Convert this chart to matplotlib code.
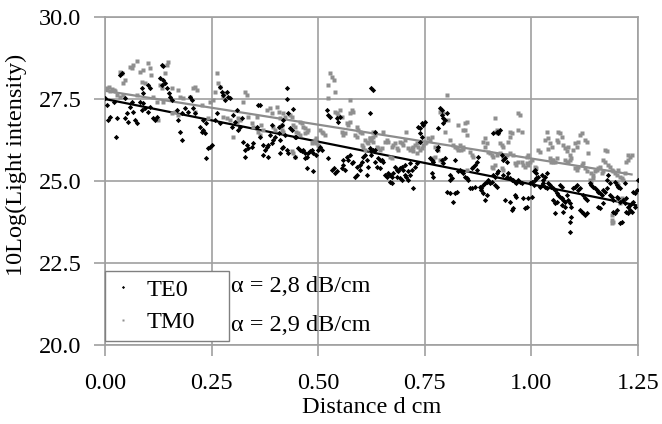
import matplotlib
matplotlib.use("Agg")
import matplotlib.pyplot as plt
from matplotlib.ticker import FormatStrFormatter

plt.rcParams['font.family'] = ['Liberation Serif', 'DejaVu Serif']

# === Data ===

# TE0 mode (black points)
te_d = [0.000, 0.004, 0.012, 0.008, 0.027, 0.026, 0.039, 0.035, 0.020, 0.047, 0.063, 0.059, 0.066, 0.051,
        0.047, 0.055, 0.070, 0.074, 0.082, 0.090, 0.086, 0.094, 0.102, 0.106, 0.086, 0.090, 0.102, 0.106,
        0.133, 0.137, 0.129, 0.137, 0.133, 0.141, 0.145, 0.149, 0.152, 0.156, 0.113, 0.117, 0.121, 0.168,
        0.172, 0.180, 0.176, 0.180, 0.188, 0.195,
        0.199, 0.203, 0.207, 0.211, 0.223, 0.227, 0.231, 0.235, 0.242, 0.246, 0.250, 0.238, 0.270, 0.274,
        0.277, 0.285, 0.289, 0.281, 0.293, 0.231, 0.238, 0.258, 0.301, 0.309, 0.262, 0.270, 0.297, 0.305,
        0.321, 0.360, 0.364, 0.324, 0.332, 0.328, 0.336, 0.344, 0.348, 0.328, 0.364, 0.371, 0.375, 0.379,
        0.383, 0.391, 0.395, 0.387, 0.371, 0.383, 0.399, 0.407, 0.410, 0.414, 0.410, 0.418, 0.356, 0.391,
        0.407, 0.317, 0.313,
        0.428, 0.426, 0.442, 0.430, 0.418, 0.414, 0.434, 0.438, 0.422, 0.446, 0.449, 0.453, 0.457, 0.461,
        0.465, 0.469, 0.473, 0.477, 0.481, 0.485, 0.489, 0.496, 0.500, 0.504, 0.508, 0.446, 0.469, 0.473,
        0.489, 0.426, 0.430, 0.520, 0.524, 0.528, 0.543, 0.547, 0.551, 0.524, 0.532, 0.536, 0.539, 0.543,
        0.555, 0.559, 0.563, 0.567, 0.571, 0.575, 0.579, 0.582, 0.586, 0.590, 0.590, 0.598, 0.602, 0.606,
        0.610, 0.614, 0.618, 0.614, 0.598, 0.625, 0.629, 0.621, 0.625, 0.633, 0.559,
        0.633, 0.621, 0.625, 0.629, 0.641, 0.645, 0.649, 0.653, 0.633, 0.637, 0.645, 0.657, 0.661, 0.664,
        0.668, 0.672, 0.676, 0.668, 0.672, 0.680, 0.684, 0.688, 0.692, 0.696, 0.700, 0.704, 0.684, 0.692,
        0.696, 0.704, 0.707, 0.711, 0.711, 0.715, 0.719, 0.723, 0.727, 0.731, 0.735, 0.739, 0.743, 0.747,
        0.750, 0.739, 0.743, 0.739, 0.715, 0.762, 0.766, 0.770, 0.766, 0.770, 0.778, 0.782, 0.782, 0.786,
        0.790, 0.790, 0.793, 0.797, 0.793, 0.801, 0.790, 0.793, 0.797, 0.809, 0.813, 0.809, 0.801, 0.809,
        0.821, 0.825, 0.817, 0.829, 0.821,
        0.833, 0.836, 0.840, 0.844, 0.848, 0.852, 0.860, 0.864, 0.868, 0.872, 0.875, 0.872, 0.860, 0.868,
        0.856, 0.879, 0.883, 0.887, 0.891, 0.895, 0.899, 0.903, 0.907, 0.883, 0.887, 0.895, 0.891, 0.911,
        0.915, 0.919, 0.922, 0.915, 0.919, 0.911, 0.919, 0.922, 0.926, 0.930, 0.934, 0.938, 0.942, 0.934,
        0.942, 0.946, 0.950, 0.954, 0.958, 0.962, 0.965, 0.969, 0.973, 0.977, 0.938, 0.950, 0.954, 0.958,
        0.962, 0.965, 0.981, 0.985, 0.989, 0.993, 1.001, 0.997, 1.001, 1.005, 1.008, 1.012, 1.005, 1.008,
        1.012, 1.016, 1.020, 1.024, 1.028, 1.032, 1.036, 1.040, 1.024, 1.032, 1.036, 1.028,
        1.044, 1.047, 1.051, 1.055, 1.059, 1.063, 1.067, 1.071, 1.075, 1.079, 1.067, 1.071, 1.051, 1.055,
        1.059, 1.083, 1.087, 1.090, 1.094, 1.055, 1.075, 1.079, 1.071, 1.098, 1.102, 1.106, 1.110, 1.114,
        1.094, 1.090, 1.090, 1.114, 1.118, 1.122, 1.126, 1.130, 1.122, 1.126, 1.130, 1.137, 1.141, 1.145,
        1.149, 1.153, 1.157, 1.161, 1.165, 1.169, 1.173, 1.177, 1.180, 1.177, 1.184, 1.184, 1.188, 1.192,
        1.196, 1.200, 1.204, 1.208, 1.200, 1.204, 1.208, 1.157, 1.161, 1.169, 1.192, 1.196, 1.200, 1.208,
        1.212, 1.216, 1.219, 1.223, 1.227, 1.231, 1.235, 1.239, 1.243, 1.223, 1.227, 1.231, 1.235, 1.239,
        1.243, 1.247, 1.249, 1.219]
te_db = [27.52, 27.32, 26.96, 26.86, 26.91, 26.35, 28.28, 28.23, 27.42, 27.52, 27.42, 27.27, 27.11, 27.06,
         26.91, 26.81, 26.86, 26.76, 27.42, 27.37, 27.16, 27.22, 27.11, 27.27, 27.83, 27.67, 27.93, 27.83,
         28.54, 28.50, 28.13, 28.08, 27.93, 27.98, 27.83, 27.67, 27.57, 27.47, 26.91, 26.86, 26.96, 27.16,
         26.86, 27.06, 26.50, 26.25, 27.22, 27.11,
         27.57, 27.47, 27.22, 27.06, 26.66, 26.50, 26.56, 26.45, 26.00, 26.05, 26.10, 25.69, 27.88, 27.72,
         27.62, 27.72, 27.57, 27.47, 27.52, 26.86, 26.76, 26.86, 27.01, 27.17, 27.06, 26.76, 26.66, 26.81,
         26.91, 27.32, 27.32, 26.20, 26.10, 25.95, 26.00, 26.05, 26.15, 25.74, 26.35, 26.10, 25.95, 26.05,
         26.10, 26.15, 26.25, 26.40, 25.79, 25.74, 26.35, 26.45, 26.25, 26.00, 25.84, 26.05, 26.66, 26.71,
         26.66, 26.66, 26.56,
         27.83, 27.49, 27.19, 27.06, 26.86, 26.71, 26.61, 26.56, 26.40, 26.35, 26.33, 26.00, 25.95, 25.90,
         25.95, 25.84, 25.74, 25.84, 25.90, 25.95, 25.84, 25.79, 25.95, 26.05, 25.95, 25.74, 25.69, 25.39,
         25.29, 25.95, 25.84, 27.17, 27.01, 26.96, 26.91, 26.81, 26.96, 25.69, 25.34, 25.39, 25.23, 25.29,
         25.39, 25.49, 25.34, 25.74, 25.64, 25.79, 25.54, 25.59, 25.13, 25.18, 25.44, 25.49, 25.59, 25.74,
         25.79, 25.64, 25.44, 25.18, 25.34, 27.83, 27.77, 27.06, 25.79, 25.95, 25.64,
         26.50, 26.00, 25.90, 25.95, 25.69, 25.64, 25.64, 25.59, 25.59, 25.44, 25.39, 25.18, 25.13, 25.23,
         25.18, 25.13, 25.23, 24.98, 24.93, 25.44, 25.34, 25.29, 25.39, 25.44, 25.34, 25.49, 25.13, 25.08,
         25.03, 25.18, 25.13, 25.03, 25.29, 25.18, 25.34, 24.78, 25.44, 25.54, 26.66, 26.61, 26.76, 26.71,
         26.81, 26.45, 26.35, 26.20, 25.54, 25.69, 25.64, 25.59, 25.23, 25.13, 25.95, 26.05, 26.61, 27.22,
         27.17, 27.01, 26.91, 26.86, 26.76, 27.06, 25.64, 25.54, 25.69, 25.18, 25.08, 25.03, 24.67, 24.62,
         24.62, 24.67, 24.37, 25.29, 25.64,
         25.34, 25.29, 25.24, 25.13, 25.08, 25.03, 25.39, 25.44, 25.49, 25.59, 25.74, 25.34, 24.78, 24.83,
         24.78, 24.83, 24.78, 24.88, 24.93, 24.98, 25.03, 24.93, 24.98, 24.73, 24.63, 24.57, 24.42, 25.18,
         25.13, 25.24, 25.29, 24.88, 24.83, 26.45, 26.50, 26.45, 26.55, 25.79, 25.64, 25.69, 25.59, 25.18,
         25.13, 25.24, 25.08, 25.03, 25.03, 24.98, 24.93, 25.03, 24.98, 24.93, 24.42, 24.37, 24.12, 24.17,
         24.57, 24.52, 24.47, 24.17, 24.22, 24.47, 24.52, 24.93, 24.98, 24.88, 25.03, 25.08, 25.29, 25.34,
         25.24, 25.13, 24.83, 24.88, 24.93, 24.83, 24.78, 24.93, 25.18, 25.13, 25.24, 25.03,
         24.88, 24.83, 24.78, 24.73, 24.63, 24.57, 24.52, 24.47, 24.42, 24.37, 24.88, 24.83, 24.42, 24.32,
         24.37, 24.57, 24.42, 24.32, 24.22, 24.02, 24.07, 24.22, 24.27, 24.78, 24.83, 24.88, 24.73, 24.78,
         23.91, 23.76, 23.46, 24.12, 24.07, 24.02, 23.96, 24.02, 24.57, 24.47, 24.42, 24.93, 24.88, 24.83,
         24.78, 24.73, 24.68, 24.63, 24.57, 24.73, 24.68, 24.78, 25.18, 25.03, 24.93, 24.57, 24.52, 24.42,
         24.98, 24.88, 24.83, 24.78, 24.52, 24.47, 24.37, 24.22, 24.17, 24.32, 24.07, 24.02, 24.12, 23.71,
         23.76, 24.42, 24.32, 24.47, 24.22, 24.27, 24.32, 24.37, 24.22, 24.07, 24.02, 24.12, 24.07, 24.68,
         24.63, 24.73, 25.03, 24.93]

# TM0 mode (grey points)
tm_d = [0.004, 0.010, 0.016, 0.020, 0.023, 0.012, 0.035, 0.039, 0.047, 0.043, 0.059, 0.066, 0.074, 0.063,
        0.082, 0.090, 0.102, 0.106, 0.109, 0.086, 0.094, 0.148, 0.145, 0.141, 0.129, 0.133, 0.156, 0.172,
        0.176, 0.184, 0.199, 0.113, 0.121, 0.137, 0.164, 0.172, 0.156, 0.125, 0.027, 0.035, 0.043, 0.074,
        0.207, 0.211, 0.215, 0.262, 0.266, 0.270, 0.258, 0.254, 0.246, 0.277, 0.281, 0.328, 0.332, 0.324,
        0.277, 0.285, 0.293, 0.309, 0.317, 0.313, 0.336, 0.344, 0.348, 0.301, 0.360, 0.364, 0.379, 0.387,
        0.391, 0.403, 0.407, 0.410, 0.395, 0.399, 0.422, 0.211, 0.227, 0.242, 0.356, 0.367, 0.371, 0.414,
        0.528, 0.532, 0.536, 0.524, 0.539, 0.524, 0.575, 0.418, 0.434, 0.438, 0.457, 0.461, 0.442, 0.446,
        0.465, 0.469, 0.473, 0.477, 0.469, 0.410, 0.414, 0.418, 0.449, 0.453, 0.457, 0.438, 0.442, 0.446,
        0.485, 0.489, 0.493, 0.496, 0.504, 0.508, 0.512, 0.516, 0.496, 0.500, 0.539, 0.543, 0.547, 0.551,
        0.555, 0.567, 0.571, 0.575, 0.555, 0.559, 0.563, 0.579, 0.582, 0.575, 0.590, 0.594, 0.598, 0.602,
        0.586, 0.590, 0.610, 0.614, 0.618, 0.621, 0.625, 0.629, 0.602, 0.606, 0.610, 0.621, 0.625,
        0.801, 0.786, 0.793, 0.805, 0.797, 0.809, 0.829, 0.840, 0.629, 0.633, 0.653, 0.621, 0.625, 0.629,
        0.637, 0.641, 0.645, 0.649, 0.657, 0.661, 0.664, 0.672, 0.676, 0.680, 0.684, 0.688, 0.692, 0.696,
        0.700, 0.707, 0.704, 0.711, 0.715, 0.719, 0.723, 0.727, 0.731, 0.735, 0.739, 0.743, 0.747, 0.750,
        0.754, 0.758, 0.762, 0.766, 0.723, 0.731, 0.774, 0.778, 0.782, 0.766, 0.770, 0.774, 0.786, 0.790,
        0.817, 0.821, 0.825, 0.829, 0.833, 0.840, 0.668, 0.672,
        0.844, 0.848, 0.844, 0.848, 0.840, 0.836, 0.856, 0.860, 0.864, 0.887, 0.891, 0.895, 0.891, 0.915,
        0.915, 0.919, 0.922, 0.926, 0.930, 0.934, 0.946, 0.950, 0.950, 0.954, 0.969, 0.973, 0.969, 0.977,
        0.899, 0.903, 0.907, 0.911, 0.919, 0.926, 0.934, 0.942, 0.950, 0.958, 0.907, 0.911, 0.915, 0.934,
        0.930, 0.962, 0.965, 0.969, 0.977, 0.981, 0.985, 0.989, 0.993, 0.997, 1.001, 0.989, 0.993, 1.016,
        1.020, 1.036, 1.040, 1.044, 1.048, 1.040, 1.032, 1.044, 1.048, 1.051, 0.848, 1.008, 1.012,
        1.063, 1.067, 1.071, 1.059, 1.063, 1.075, 1.079, 1.083, 1.087, 1.090, 1.098, 1.102, 1.106, 1.110,
        1.114, 1.118, 1.126, 1.130, 1.133, 1.094, 1.090, 1.087, 1.051, 1.055, 1.059, 1.047, 1.079, 1.083,
        1.102, 1.106, 1.110, 1.118, 1.122, 1.126, 1.130, 1.141, 1.145, 1.149, 1.153, 1.157, 1.161, 1.165,
        1.169, 1.169, 1.173, 1.177, 1.173, 1.180, 1.184, 1.188, 1.192, 1.196, 1.200, 1.204, 1.208, 1.212,
        1.216, 1.219, 1.227, 1.231, 1.227, 1.235, 1.223, 1.137, 1.141, 1.145, 1.204, 1.208, 1.212, 1.188,
        1.192, 1.188, 1.188, 1.200, 1.204]
tm_db = [27.83, 27.88, 27.80, 27.78, 27.73, 27.73, 28.33, 28.28, 28.08, 27.98, 28.49, 28.54, 28.67, 28.44,
         28.33, 28.38, 28.59, 28.44, 28.23, 28.03, 27.98, 28.64, 28.54, 28.28, 27.93, 27.83, 27.83, 27.78,
         27.57, 27.52, 27.57, 27.57, 27.42, 27.42, 27.11, 27.01, 27.06, 26.86, 27.62, 27.57, 27.62, 27.62,
         27.83, 27.88, 27.78, 28.28, 27.98, 27.88, 27.72, 27.47, 27.42, 27.57, 27.67, 27.72, 27.62, 27.42,
         26.96, 26.91, 26.86, 26.81, 26.86, 26.91, 26.96, 26.76, 26.66, 26.35, 26.50, 26.40, 27.17, 27.22,
         27.06, 27.27, 27.11, 26.91, 26.66, 26.56, 26.96, 27.11, 27.32, 26.91, 26.96, 26.71, 26.56, 26.71,
         28.28, 28.18, 28.08, 27.93, 27.72, 27.52, 27.47, 27.06, 27.01, 26.96, 26.81, 26.76, 26.71, 26.66,
         26.66, 26.61, 26.50, 26.56, 26.45, 26.66, 26.56, 26.50, 26.50, 26.45, 26.40, 25.90, 25.84, 25.74,
         26.15, 26.20, 26.25, 26.30, 26.56, 26.50, 26.45, 26.40, 26.15, 26.10, 27.11, 27.06, 27.01, 27.17,
         26.96, 26.76, 26.71, 26.81, 26.50, 26.40, 26.45, 27.17, 27.11, 27.06, 26.66, 26.56, 26.50, 26.45,
         26.40, 26.35, 26.25, 26.20, 26.15, 26.30, 26.25, 26.35, 26.10, 26.05, 25.95, 25.95, 25.90,
         27.62, 27.11, 27.06, 26.86, 26.50, 26.25, 26.71, 26.56, 26.50, 26.40, 26.50, 26.30, 26.25, 26.20,
         26.05, 26.00, 25.95, 26.00, 26.20, 26.25, 26.20, 26.05, 26.10, 26.15, 26.00, 25.95, 26.20, 26.15,
         26.10, 26.50, 26.25, 26.00, 25.95, 26.00, 26.05, 26.10, 26.15, 26.05, 25.95, 26.00, 26.10, 26.15,
         26.20, 26.30, 26.25, 26.35, 25.90, 25.84, 26.05, 26.00, 25.95, 25.69, 25.64, 25.74, 25.64, 25.59,
         26.10, 26.05, 26.00, 25.95, 26.10, 26.05, 25.74, 25.69,
         26.76, 26.81, 26.55, 26.40, 25.99, 25.95, 25.89, 25.79, 25.74, 26.20, 26.30, 26.15, 26.05, 26.91,
         26.50, 26.55, 26.45, 26.15, 26.10, 26.05, 26.20, 26.35, 26.50, 26.45, 27.06, 27.01, 26.55, 26.50,
         25.89, 25.84, 25.79, 25.74, 25.79, 25.84, 25.74, 25.79, 25.84, 25.79, 25.44, 25.39, 25.49, 25.34,
         25.39, 25.54, 25.49, 25.59, 25.59, 25.49, 25.44, 25.54, 25.49, 25.59, 25.64, 25.74, 25.79, 25.94,
         25.89, 26.50, 26.30, 26.15, 26.05, 25.99, 26.25, 25.69, 25.64, 25.59, 25.34, 25.44, 25.39,
         26.50, 26.45, 26.35, 26.25, 26.20, 26.10, 26.00, 25.90, 26.05, 25.79, 25.95, 26.15, 26.05, 26.20,
         26.40, 26.45, 26.25, 26.20, 25.84, 25.69, 25.64, 25.59, 25.64, 25.59, 25.69, 25.59, 25.64, 25.59,
         25.39, 25.34, 25.44, 25.49, 25.54, 25.39, 25.29, 25.23, 25.18, 25.29, 25.34, 25.39, 25.44, 25.23,
         25.29, 25.64, 25.59, 25.90, 25.95, 25.49, 25.44, 25.34, 25.29, 25.23, 25.18, 25.34, 25.13, 25.08,
         25.03, 25.23, 25.79, 25.74, 25.64, 25.79, 25.59, 25.03, 24.98, 25.08, 24.42, 24.32, 24.47, 23.81,
         23.76, 23.71, 23.96, 24.93, 24.88]

# regression lines (end points)
te_fit_d = [0.0, 1.25]
te_fit_db = [27.5, 24.25]
tm_fit_d = [0.0, 1.235]
tm_fit_db = [27.75, 25.2]

x_ticks = [0.0, 0.25, 0.5, 0.75, 1.0, 1.25]
y_ticks = [20.0, 22.5, 25.0, 27.5, 30.0]
alpha_labels = ["\u03b1 = 2,8 dB/cm", "\u03b1 = 2,9 dB/cm"]

# === Figure ===

fig = plt.figure(figsize=(6.62, 4.24), dpi=100)
ax = fig.add_axes([0.1586, 0.1863, 0.8051, 0.7736])

fs = 17.5
grid_col = '#a0a0a0'
ax.plot(tm_fit_d, tm_fit_db, color='#8c8c8c', lw=1.6, zorder=2)
ax.plot(te_fit_d, te_fit_db, color='black', lw=1.6, zorder=2)
tm_pts, = ax.plot(tm_d, tm_db, ls='none', marker='s', ms=3.0, color='#8f8f8f', mec='none', zorder=3, label='TM0')
te_pts, = ax.plot(te_d, te_db, ls='none', marker='D', ms=2.7, color='black', mec='none', zorder=4, label='TE0')

ax.set_xlim(0, 1.25)
ax.set_ylim(20, 30)
ax.set_xticks(x_ticks)
ax.set_yticks(y_ticks)
ax.xaxis.set_major_formatter(FormatStrFormatter('%.2f'))
ax.yaxis.set_major_formatter(FormatStrFormatter('%.1f'))
ax.grid(True, color=grid_col, lw=1.2)
ax.set_axisbelow(True)
for s in ax.spines.values():
    s.set_color(grid_col)
    s.set_linewidth(1.2)
ax.tick_params(axis='x', direction='out', length=8, width=1.2, color=grid_col, labelsize=fs, pad=12)
ax.tick_params(axis='y', direction='out', length=8, width=1.2, color=grid_col, labelsize=fs, pad=9)

ax.set_xlabel("Distance d cm", fontsize=fs)
ax.xaxis.set_label_coords(0.5, -0.158)
ax.set_ylabel("10Log(Light intensity)", fontsize=fs)
ax.yaxis.set_label_coords(-0.147, 0.55)

leg = ax.legend(handles=[te_pts, tm_pts], loc='lower left', bbox_to_anchor=(0, 0.013, 0.232, 0.234),
                mode='expand', borderaxespad=0, fontsize=fs, handlelength=0.9, handletextpad=0.5,
                labelspacing=0.45, borderpad=0.3, markerscale=0.6, fancybox=False, framealpha=1)
leg.get_frame().set_edgecolor('#808080')
leg.get_frame().set_linewidth(1.0)

ax.text(0.236, 0.177, alpha_labels[0], transform=ax.transAxes, fontsize=fs, va='center', ha='left')
ax.text(0.236, 0.061, alpha_labels[1], transform=ax.transAxes, fontsize=fs, va='center', ha='left')

fig.savefig("out.png", dpi=100)
